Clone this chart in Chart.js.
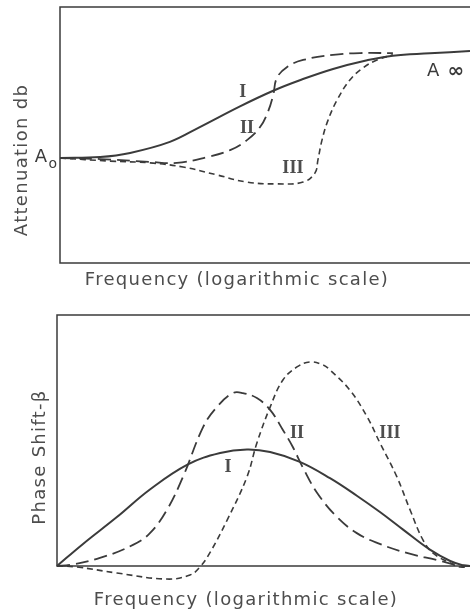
<!DOCTYPE html>
<html>
<head>
<meta charset="utf-8">
<script src="https://cdn.jsdelivr.net/npm/chart.js@4"></script>
<style>
  body { margin:0; background:#fff; }
  canvas { display:block; }
</style>
</head>
<body>
<canvas id="atten" width="470" height="300"></canvas>
<canvas id="phase" width="470" height="313"></canvas>
<script>
// Attenuation and phase shift vs frequency for three network types (I, II, III)
// frequency is a relative 0..100 position along the log axis

const attFreqI   = [0, 9.8, 17.1, 26.8, 34.1, 43.9, 52, 58.5, 66.6, 74.9, 81.2, 90.2, 100];
const attI       = [41, 41.4, 43, 47.3, 53.1, 61.2, 67.3, 71.4, 75.8, 79.2, 81, 81.9, 82.8];
const attFreqII  = [0, 9.8, 22, 28.5, 35.9, 41.5, 45.6, 48.8, 50.7, 52, 52.9, 55.4, 59.3, 66.6, 73.2, 81.2];
const attII      = [41, 40.6, 39.5, 39.1, 41.4, 44.1, 48, 53.1, 59, 65.6, 72.3, 76.6, 79.3, 81.3, 82, 82];
const attFreqIII = [0, 12.2, 22, 30, 38.3, 45.6, 52.9, 59.3, 62.2, 62.9, 63.9, 65.4, 67.6, 70.7, 73.9, 77.3, 81.2];
const attIII     = [41, 39.8, 39.1, 37.5, 34.4, 31.6, 30.9, 31.6, 35.2, 40.2, 48, 55.9, 63.7, 71.5, 76.2, 79.3, 81.3];

const phFreqI   = [0, 6.3, 14.5, 22.5, 31.7, 39.5, 46, 51.6, 58.8, 66.1, 72.6, 78.2, 83.8, 90.3, 95.2, 98.3, 100];
const phI       = [0, 8.8, 19.5, 30.5, 40.5, 45, 46.4, 45.4, 41.5, 35, 28, 21.5, 14.5, 6.5, 2, 0.3, 0];
const phFreqII  = [0, 3.1, 10.4, 18.4, 22.5, 26.6, 30.5, 35.4, 38.7, 42.6, 45, 48.4, 51.6, 54.7, 57.1, 59.6, 63, 67.8, 72.6, 77.5, 84.7, 92, 96.9, 100];
const phII      = [0, 0.4, 3.2, 8.4, 13.1, 22.3, 35.5, 55.4, 63.3, 68.9, 68.9, 66.9, 62.2, 54.2, 47.4, 39, 29.1, 19.5, 13.1, 9.2, 5.2, 2.4, 0.4, 0];
const phFreqIII = [0, 4.8, 14.5, 26.6, 32.2, 34.6, 37, 41.2, 46, 48.4, 51.6, 54.7, 58.1, 61.3, 64.4, 66.1, 70.9, 75.1, 78.2, 82.3, 85.5, 88.6, 91, 95.2, 97.6, 100];
const phIII     = [0, -0.4, -2.8, -5.2, -3.6, -0.4, 5.2, 18.3, 35.5, 49, 63.3, 74.1, 79.3, 81.3, 80.1, 78.1, 70.1, 59.4, 49, 35.5, 22.3, 10.4, 5.2, 1.2, -0.4, 0];

const ink = '#3b3b3b';
const textInk = '#4d4d4d';
const letterFont = '18px "DejaVu Sans"';
const romanFont = 'bold 18px "Liberation Serif"';

function pts(xs, ys){ return xs.map((x, i) => ({ x, y: ys[i] })); }

function line(data, kind){
  const styles = {
    I:   { borderWidth: 2,   borderDash: [] },
    II:  { borderWidth: 1.8, borderDash: [13, 6] },
    III: { borderWidth: 1.6, borderDash: [6, 4] },
  };
  return Object.assign({
    label: kind,
    data,
    borderColor: ink,
    pointRadius: 0,
    tension: 0.4,
    fill: false,
    clip: false,
  }, styles[kind]);
}

// frame (left, top, bottom) plus hand lettering
const frame = {
  id: 'frame',
  afterDraw(chart, args, o){
    const { ctx, chartArea: a, scales: { x, y } } = chart;
    ctx.save();
    ctx.strokeStyle = ink;
    ctx.lineWidth = 1.5;
    ctx.beginPath();
    ctx.moveTo(a.right + 4, a.top);
    ctx.lineTo(a.left, a.top);
    ctx.lineTo(a.left, a.bottom);
    ctx.lineTo(a.right + 4, a.bottom);
    ctx.stroke();

    ctx.fillStyle = textInk;
    ctx.textAlign = 'center';
    ctx.textBaseline = 'middle';
    ctx.font = letterFont;
    ctx.letterSpacing = '1.3px';
    ctx.fillText(o.xTitle[0], o.xTitle[1], o.xTitle[2]);
    ctx.save();
    ctx.translate(o.yTitle[1], o.yTitle[2]);
    ctx.rotate(-Math.PI / 2);
    ctx.fillText(o.yTitle[0], 0, 0);
    ctx.restore();
    ctx.letterSpacing = '0px';

    ctx.font = romanFont;
    o.notes.forEach(n => ctx.fillText(n[0], x.getPixelForValue(n[1]), y.getPixelForValue(n[2])));

    if (o.levels){
      ctx.fillStyle = ink;
      ctx.font = letterFont;
      ctx.textAlign = 'right';
      const y0 = y.getPixelForValue(attI[0]);
      ctx.fillText('A', a.left - 13, y0 - 1);
      ctx.font = '14px "DejaVu Sans"';
      ctx.fillText('o', a.left - 3, y0 + 6);
      ctx.font = letterFont;
      ctx.textAlign = 'left';
      const y1 = y.getPixelForValue(82) + 18;
      ctx.fillText('A', x.getPixelForValue(89.5), y1);
      ctx.font = 'bold 20px "DejaVu Sans"';
      ctx.fillText('\u221E', x.getPixelForValue(94.5), y1 + 1);
    }
    ctx.restore();
  }
};

function makeChart(id, datasets, pad, opts){
  return new Chart(document.getElementById(id), {
    type: 'line',
    data: { datasets },
    options: {
      responsive: false,
      animation: false,
      layout: { padding: pad },
      elements: { line: { capBezierPoints: false } },
      scales: {
        x: { type: 'linear', min: 0, max: 100, display: false },
        y: { min: 0, max: 100, display: false },
      },
      plugins: {
        legend: { display: false },
        tooltip: { enabled: false },
        frame: opts,
      }
    },
    plugins: [frame]
  });
}

makeChart('atten', [
  line(pts(attFreqIII, attIII), 'III'),
  line(pts(attFreqII, attII), 'II'),
  line(pts(attFreqI, attI), 'I'),
], { left: 60, top: 7, right: 0, bottom: 37 }, {
  xTitle: ['Frequency (logarithmic scale)', 237, 280],
  yTitle: ['Attenuation db', 22, 160],
  notes: [['I', 44.6, 66.8], ['II', 45.6, 52.7], ['III', 56.8, 37.1]],
  levels: true,
});

makeChart('phase', [
  line(pts(phFreqIII, phIII), 'III'),
  line(pts(phFreqII, phII), 'II'),
  line(pts(phFreqI, phI), 'I'),
], { left: 57, top: 15, right: 0, bottom: 47 }, {
  xTitle: ['Frequency (logarithmic scale)', 246, 300],
  yTitle: ['Phase Shift-\u03B2', 40, 157],
  notes: [['I', 41.4, 39.2], ['II', 58.1, 52.8], ['III', 80.6, 52.8]],
  levels: false,
});
</script>
</body>
</html>
